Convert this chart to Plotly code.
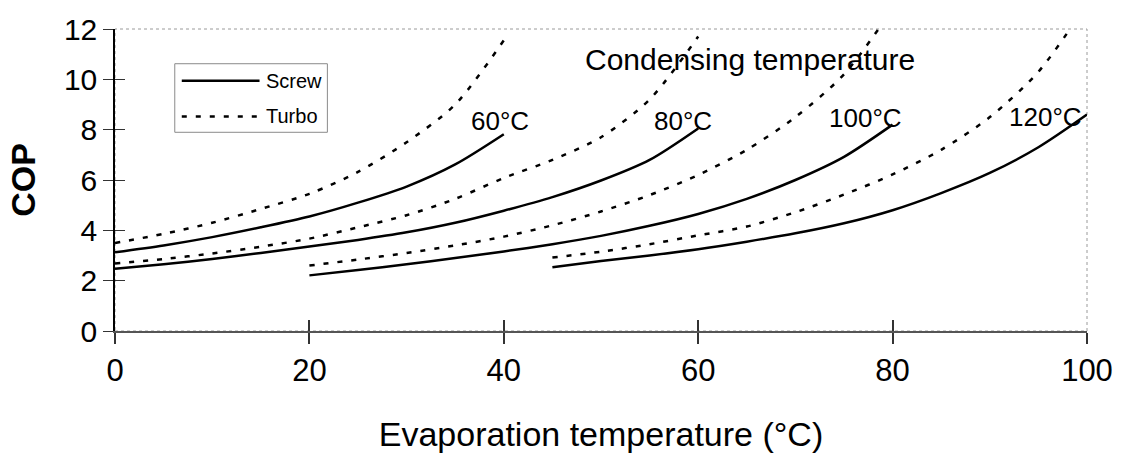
import plotly.graph_objects as go

# Evaporation temperatures (°C) for each condensing-temperature group
evap_60 = [0, 5, 10, 15, 20, 25, 30, 35, 40]
evap_80 = [0, 5, 10, 15, 20, 25, 30, 35, 40, 45, 50, 55, 60]
evap_100 = [20, 25, 30, 35, 40, 45, 50, 55, 60, 65, 70, 75, 80]
evap_120 = [45, 50, 55, 60, 65, 70, 75, 80, 85, 90, 95, 100]

# COP of screw compressors
screw_60 = [3.13, 3.4, 3.73, 4.12, 4.55, 5.1, 5.74, 6.62, 7.82]
screw_80 = [2.47, 2.65, 2.86, 3.1, 3.36, 3.62, 3.92, 4.3, 4.78, 5.32, 5.98, 6.8, 8.05]
screw_100 = [2.21, 2.42, 2.65, 2.9, 3.16, 3.45, 3.78, 4.18, 4.65, 5.25, 6.0, 6.92, 8.2]
screw_120 = [2.53, 2.78, 3.0, 3.25, 3.55, 3.88, 4.28, 4.8, 5.48, 6.28, 7.3, 8.6]

# COP of turbo compressors
turbo_60 = [3.5, 3.86, 4.3, 4.85, 5.45, 6.32, 7.5, 9.0, 11.55]
turbo_80 = [2.68, 2.86, 3.08, 3.35, 3.67, 4.12, 4.6, 5.25, 6.08, 6.8, 7.7, 9.2, 11.7]
turbo_100 = [2.6, 2.84, 3.1, 3.4, 3.75, 4.2, 4.75, 5.4, 6.2, 7.2, 8.5, 10.2, 12.8]
turbo_120 = [2.92, 3.15, 3.45, 3.8, 4.15, 4.72, 5.42, 6.22, 7.2, 8.5, 10.3, 13.0]

cond_labels = ["60°C", "80°C", "100°C", "120°C"]
label_x = [39.6, 58.4, 77.2, 95.7]
label_y = [8.35, 8.35, 8.45, 8.52]

FONT = "Liberation Sans, Arial, sans-serif"
LINE_W = 2.5
DASH = "5px,9px"

groups = [
    (evap_60, screw_60, turbo_60),
    (evap_80, screw_80, turbo_80),
    (evap_100, screw_100, turbo_100),
    (evap_120, screw_120, turbo_120),
]

fig = go.Figure()
for (ev, sc, tu), lab in zip(groups, cond_labels):
    fig.add_trace(go.Scatter(
        x=ev, y=tu, mode="lines", name="Turbo " + lab, showlegend=False,
        line=dict(color="black", width=LINE_W, dash=DASH, shape="spline", smoothing=0.8),
    ))
    fig.add_trace(go.Scatter(
        x=ev, y=sc, mode="lines", name="Screw " + lab, showlegend=False,
        line=dict(color="black", width=LINE_W, shape="spline", smoothing=0.8),
    ))

# empty trace carrying the inner half of the crossing tick marks
fig.add_trace(go.Scatter(x=[], y=[], xaxis="x2", yaxis="y2", showlegend=False))

annotations = []
for lab, lx, ly in zip(cond_labels, label_x, label_y):
    annotations.append(dict(
        x=lx, y=ly, xref="x", yref="y", text=lab, showarrow=False,
        font=dict(family=FONT, size=26, color="black"),
        xanchor="center", yanchor="middle",
    ))
annotations.append(dict(
    x=65.3, y=10.78, xref="x", yref="y", text="Condensing temperature",
    showarrow=False, font=dict(family=FONT, size=30, color="black"),
    xanchor="center", yanchor="middle",
))

# legend box drawn in paper coordinates
leg_box = dict(x0=0.0615, x1=0.2185, y0=0.658, y1=0.885)
leg_line_x = (0.0687, 0.1487)
leg_rows = [("Screw", 0.829, None), ("Turbo", 0.7105, DASH)]
leg_text_x = 0.1528

shapes = [
    # dotted frame along the top and right edges of the plot area
    dict(type="rect", xref="paper", yref="paper", x0=0, x1=1, y0=0, y1=1,
         line=dict(color="#9a9a9a", width=1, dash="dot"), layer="below"),
    dict(type="rect", xref="paper", yref="paper", **leg_box,
         line=dict(color="#8a8a8a", width=1), fillcolor="white", layer="above"),
]
for name, ly, dash in leg_rows:
    shapes.append(dict(type="line", xref="paper", yref="paper",
                       x0=leg_line_x[0], x1=leg_line_x[1], y0=ly, y1=ly,
                       line=dict(color="black", width=2.5, dash=dash)))
    annotations.append(dict(x=leg_text_x, y=ly, xref="paper", yref="paper",
                            text=name, showarrow=False, xanchor="left", yanchor="middle",
                            font=dict(family=FONT, size=20, color="black")))

fig.update_layout(
    width=1125, height=462,
    margin=dict(l=115, r=35, t=27, b=131),
    paper_bgcolor="white", plot_bgcolor="white",
    font=dict(family=FONT, color="black"),
    shapes=shapes, annotations=annotations,
    xaxis=dict(
        range=[0, 100], tickvals=[0, 20, 40, 60, 80, 100],
        ticks="outside", ticklen=11, tickwidth=1.5, tickcolor="#333",
        showline=True, linecolor="#555", linewidth=2, showgrid=False, zeroline=False,
        tickfont=dict(family=FONT, size=31),
        title=dict(text="Evaporation temperature (°C)",
                   font=dict(family=FONT, size=34), standoff=35),
    ),
    yaxis=dict(
        range=[0, 12], tickvals=[0, 2, 4, 6, 8, 10, 12],
        ticks="outside", ticklen=10, tickwidth=1, tickcolor="#333",
        showline=True, linecolor="black", linewidth=1.5, showgrid=False, zeroline=False,
        tickfont=dict(family=FONT, size=30),
        title=dict(text="<b>COP</b>", font=dict(family=FONT, size=34), standoff=18),
    ),
    xaxis2=dict(range=[0, 100], tickvals=[0, 20, 40, 60, 80, 100], overlaying="x",
                ticks="inside", ticklen=11, tickwidth=1.5, tickcolor="#333",
                showticklabels=False, showgrid=False, zeroline=False, showline=False),
    yaxis2=dict(range=[0, 12], tickvals=[0, 2, 4, 6, 8, 10, 12], overlaying="y",
                ticks="inside", ticklen=10, tickwidth=1, tickcolor="#333",
                showticklabels=False, showgrid=False, zeroline=False, showline=False),
)

fig.write_html("out.html")
